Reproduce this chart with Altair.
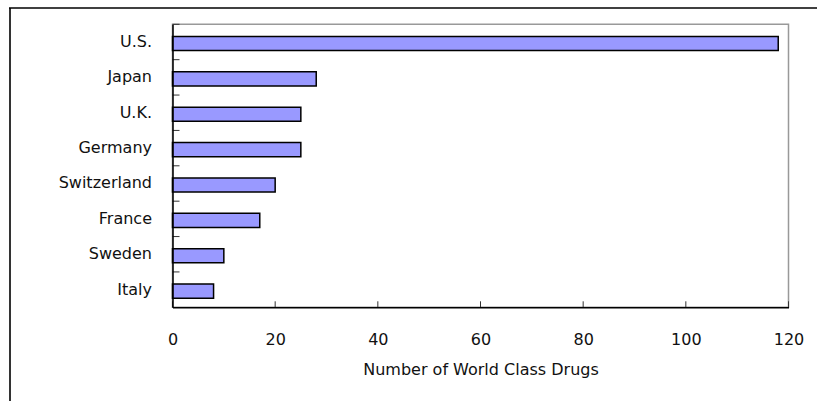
import altair as alt
import pandas as pd

countries = ["U.S.", "Japan", "U.K.", "Germany", "Switzerland", "France", "Sweden", "Italy"]
drugs = [118, 28, 25, 25, 20, 17, 10, 8]
x_ticks = [0, 20, 40, 60, 80, 100, 120]
x_title = "Number of World Class Drugs"

W, H = 616, 283
FONT = "DejaVu Sans"

df = pd.DataFrame({"country": countries, "drugs": drugs})
ticks_df = pd.DataFrame({"t": x_ticks})
one = pd.DataFrame({"a": [0]})

y_enc = alt.Y(
    "country:N",
    sort=countries,
    scale=alt.Scale(paddingInner=0, paddingOuter=0),
    axis=alt.Axis(
        title=None, tickSize=0, domainColor="black", domainWidth=1.5,
        labelFont=FONT, labelFontSize=16, labelColor="#111111",
        labelPadding=21, zindex=1,
    ),
)
x_scale = alt.Scale(domain=[0, 120], nice=False)

bars = alt.Chart(df).mark_bar(
    color="#9999FF", stroke="black", strokeWidth=1.5,
    height={"band": 0.4}, yOffset=1.5,
).encode(
    x=alt.X(
        "drugs:Q", scale=x_scale,
        axis=alt.Axis(
            values=x_ticks, title=x_title, grid=False, tickSize=0,
            domainColor="black", domainWidth=1.5,
            labelFont=FONT, labelFontSize=16, labelColor="#111111", labelPadding=24,
            labelFlush=False, labelOverlap=False,
            titleFont=FONT, titleFontSize=16, titleFontWeight="normal",
            titleColor="#111111", titlePadding=14, zindex=1,
        ),
    ),
    y=y_enc,
)

yticks = alt.Chart(df).mark_rule(color="#333333", strokeWidth=1).encode(
    y=alt.Y("country:N", sort=countries, bandPosition=0),
    x=alt.value(0),
    x2=alt.value(7),
)

xticks = alt.Chart(ticks_df).mark_rule(color="#333333", strokeWidth=1).encode(
    x=alt.X("t:Q", scale=x_scale),
    y=alt.value(H),
    y2=alt.value(H - 6),
)

frame_left = alt.Chart(one).mark_rule(color="#333333", strokeWidth=2).encode(
    x=alt.value(-162.5), y=alt.value(-16.3), y2=alt.value(380),
)
frame_top = alt.Chart(one).mark_rule(color="black", strokeWidth=1.5).encode(
    y=alt.value(-16.3), x=alt.value(-163.5), x2=alt.value(650),
)

chart = alt.layer(bars, yticks, xticks, frame_left, frame_top).properties(
    width=W, height=H,
    autosize=alt.AutoSizeParams(type="none"),
    padding={"left": 172.5, "top": 24.3, "right": 28.5, "bottom": 93.7},
    background="white",
).configure_view(stroke="#999999", strokeWidth=1.5)

chart.save("out.html", embed_options={"renderer": "svg", "actions": False})
